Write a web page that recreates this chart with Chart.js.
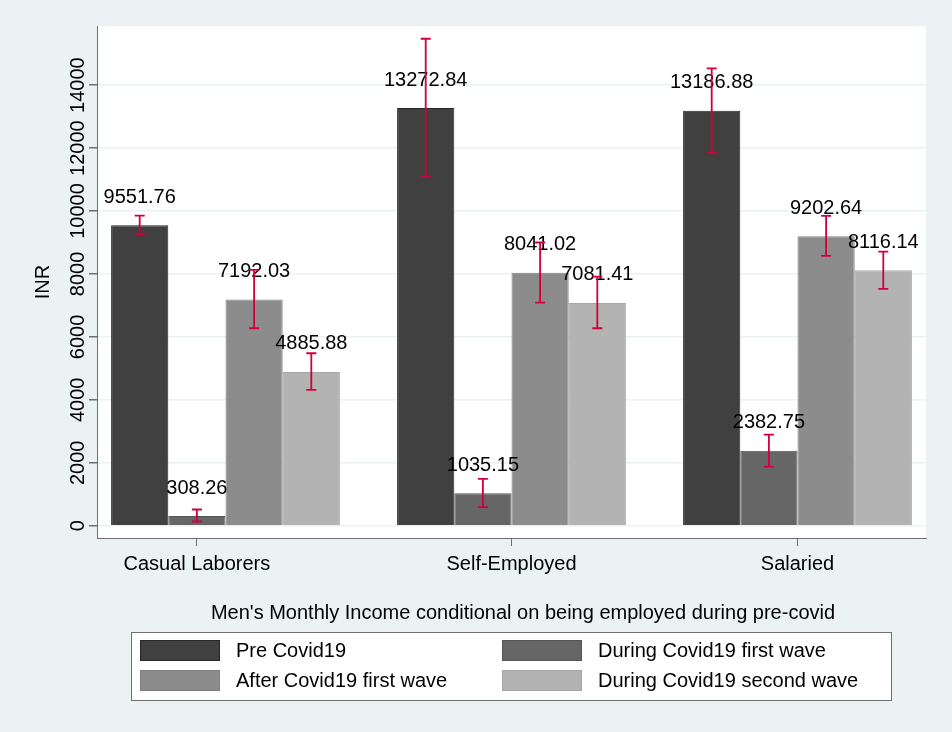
<!DOCTYPE html>
<html>
<head>
<meta charset="utf-8">
<script src="https://cdn.jsdelivr.net/npm/chart.js@4.4.0/dist/chart.umd.min.js"></script>
<style>
  html, body { margin: 0; padding: 0; background: #eaf2f3; }
  #wrap { width: 952px; height: 732px; }
</style>
</head>
<body>
<div id="wrap"><canvas id="incomeChart"></canvas></div>
<script>
const categories = ['Casual Laborers', 'Self-Employed', 'Salaried'];
const seriesNames = ['Pre Covid19', 'During Covid19 first wave', 'After Covid19 first wave', 'During Covid19 second wave'];

const preCovid = [9551.76, 13272.84, 13186.88];
const firstWave = [308.26, 1035.15, 2382.75];
const afterFirstWave = [7192.03, 8041.02, 9202.64];
const secondWave = [4885.88, 7081.41, 8116.14];

// confidence intervals
const preLow = [9265, 11087, 11860];
const preHigh = [9857, 15475, 14531];
const firstLow = [135, 590, 1880];
const firstHigh = [515, 1490, 2895];
const afterLow = [6276, 7091, 8575];
const afterHigh = [8130, 9000, 9847];
const secondLow = [4315, 6276, 7526];
const secondHigh = [5481, 7917, 8712];

const yTicks = [0, 2000, 4000, 6000, 8000, 10000, 12000, 14000];
// onde o Stata pôs as marcas do eixo x (a primeira fica um pouco à esquerda)
const xTickAt = [-0.1, 1, 2];
const legendTitle = "Men's Monthly Income conditional on being employed during pre-covid";

const FONT = '"Liberation Sans", Arial, Helvetica, sans-serif';
const fills = ['#404040', '#666666', '#8c8c8c', '#b3b3b3'];
const edges = ['#262626', '#555555', '#7f7f7f', '#a6a6a6'];
const axisGray = '#6f6f6f';

function toPoints(values) {
    return values.map((v, i) => ({ x: i, y: v }));
}

const seriesValues = [preCovid, firstWave, afterFirstWave, secondWave];
const seriesLow = [preLow, firstLow, afterLow, secondLow];
const seriesHigh = [preHigh, firstHigh, afterHigh, secondHigh];

// fundo branco só na área do gráfico
const plotBackground = {
    id: 'plotBackground',
    beforeDraw(chart) {
        const { ctx, chartArea: a } = chart;
        ctx.save();
        ctx.fillStyle = '#ffffff';
        ctx.fillRect(a.left, a.top, a.right - a.left, a.bottom - a.top);
        ctx.restore();
    }
};

// rótulos de valor e barras de erro
const barExtras = {
    id: 'barExtras',
    afterDatasetsDraw(chart) {
        const { ctx } = chart;
        const yScale = chart.scales.y;
        ctx.save();
        ctx.font = '20px ' + FONT;
        ctx.fillStyle = '#000000';
        ctx.textAlign = 'center';
        ctx.textBaseline = 'middle';
        chart.data.datasets.forEach((ds, d) => {
            chart.getDatasetMeta(d).data.forEach((bar, i) => {
                ctx.fillText(ds.data[i].y.toFixed(2), bar.x, bar.y - 28);
            });
        });
        ctx.strokeStyle = '#d1003c';
        ctx.lineWidth = 1.8;
        chart.data.datasets.forEach((ds, d) => {
            chart.getDatasetMeta(d).data.forEach((bar, i) => {
                const top = yScale.getPixelForValue(ds.ciHigh[i]);
                const bot = yScale.getPixelForValue(ds.ciLow[i]);
                ctx.beginPath();
                ctx.moveTo(bar.x, top); ctx.lineTo(bar.x, bot);
                ctx.moveTo(bar.x - 5, top); ctx.lineTo(bar.x + 5, top);
                ctx.moveTo(bar.x - 5, bot); ctx.lineTo(bar.x + 5, bot);
                ctx.stroke();
            });
        });
        ctx.restore();
    }
};

// legenda em grade 2x2 com título, estilo Stata
const stataLegend = {
    id: 'stataLegend',
    afterDraw(chart) {
        const { ctx } = chart;
        ctx.save();
        ctx.font = '20px ' + FONT;
        ctx.fillStyle = '#000000';
        ctx.textAlign = 'center';
        ctx.textBaseline = 'middle';
        ctx.fillText(legendTitle, 523, 613);

        ctx.fillStyle = '#ffffff';
        ctx.fillRect(131.5, 632.5, 760, 68);
        ctx.strokeStyle = axisGray;
        ctx.lineWidth = 1;
        ctx.strokeRect(131.5, 632.5, 760, 68);

        const cols = [140, 502];
        const rows = [640, 670];
        ctx.textAlign = 'left';
        chart.data.datasets.forEach((ds, d) => {
            const sx = cols[d % 2];
            const sy = rows[Math.floor(d / 2)];
            ctx.fillStyle = ds.backgroundColor;
            ctx.fillRect(sx, sy, 80, 21);
            ctx.strokeStyle = ds.borderColor;
            ctx.strokeRect(sx + 0.5, sy + 0.5, 79, 20);
            ctx.fillStyle = '#000000';
            ctx.fillText(ds.label, sx + 96, sy + 11);
        });
        ctx.restore();
    }
};

const ctx = document.getElementById('incomeChart');
new Chart(ctx, {
    type: 'bar',
    data: {
        datasets: seriesNames.map((name, d) => ({
            label: name,
            data: toPoints(seriesValues[d]),
            ciLow: seriesLow[d],
            ciHigh: seriesHigh[d],
            backgroundColor: fills[d],
            borderColor: edges[d],
            borderWidth: 1,
            categoryPercentage: 0.8,
            barPercentage: 1.0
        }))
    },
    options: {
        responsive: true,
        maintainAspectRatio: false,
        animation: false,
        layout: { padding: { left: 0, top: 26, right: 26, bottom: 154 } },
        scales: {
            x: {
                type: 'linear',
                offset: false,
                min: -0.4493,
                max: 2.4493,
                afterBuildTicks: (axis) => { axis.ticks = xTickAt.map((v) => ({ value: v })); },
                afterFit: (axis) => { axis.height = 40; },
                ticks: {
                    autoSkip: false,
                    maxRotation: 0,
                    padding: 6,
                    color: '#000000',
                    font: { family: FONT, size: 20 },
                    callback: (v, i) => categories[i]
                },
                grid: { offset: false, drawOnChartArea: false, tickLength: 8, tickColor: axisGray },
                border: { color: axisGray, width: 1 }
            },
            y: {
                min: -390,
                max: 15880,
                afterBuildTicks: (axis) => { axis.ticks = yTicks.map((v) => ({ value: v })); },
                afterFit: (axis) => { axis.width = 97; },
                ticks: {
                    autoSkip: false,
                    minRotation: 90,
                    maxRotation: 90,
                    crossAlign: 'center',
                    padding: -17,
                    color: '#000000',
                    font: { family: FONT, size: 20 },
                    callback: (v) => String(v)
                },
                title: {
                    display: true,
                    text: 'INR',
                    color: '#000000',
                    font: { family: FONT, size: 20 },
                    padding: { top: 31.5, bottom: 0 }
                },
                grid: { color: '#eaf2f3', lineWidth: 1.5, tickLength: 8, tickColor: axisGray },
                border: { color: axisGray, width: 1 }
            }
        },
        plugins: {
            legend: { display: false },
            tooltip: { enabled: false }
        }
    },
    plugins: [plotBackground, barExtras, stataLegend]
});
</script>
</body>
</html>
